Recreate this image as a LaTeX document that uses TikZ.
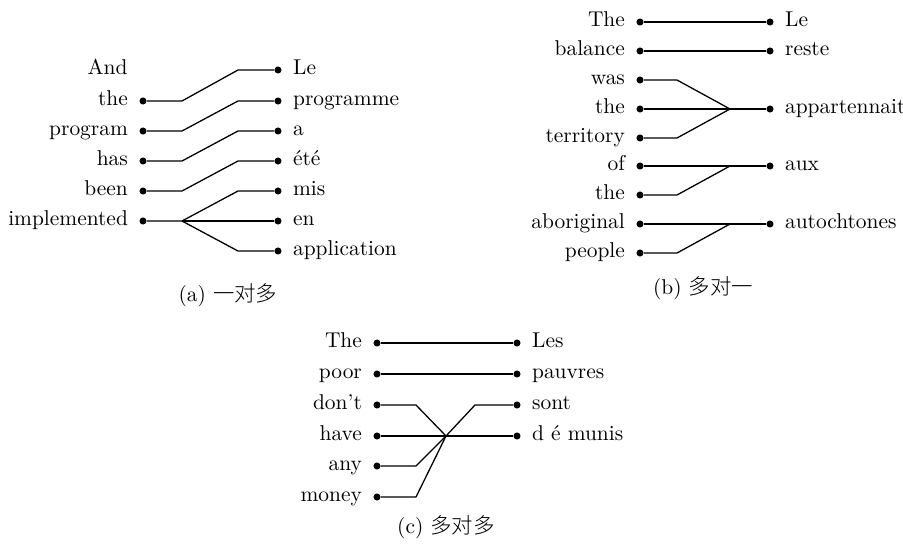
\documentclass[tikz,border=0pt]{standalone}
\usepackage{fontspec}
\newfontfamily\cjk{Noto Sans CJK SC Light}
\usepackage{tikz}
\usetikzlibrary{positioning,calc}

\begin{document}
\begin{tikzpicture}[
    x=0.01641cm, y=-0.01641cm,
    node distance=5pt,
    dot/.style={circle, fill=black, inner sep=0pt, minimum size=3.3pt},
    word/.style={inner sep=0pt, text height=6.5pt, text depth=1.9pt},
    link/.style={line width=0.6pt},
    caption/.style={inner sep=0pt}
]
\useasboundingbox (0,0) rectangle (903,546);

% (a) one to many
\coordinate (aL1) at (143,70);
\node (aL2) [dot] at (143,101) {};
\node (aL3) [dot] at (143,131) {};
\node (aL4) [dot] at (143,161) {};
\node (aL5) [dot] at (143,191) {};
\node (aL6) [dot] at (143,221) {};
\node (aW1) [word, left=7pt of aL1] {And};
\node (aW2) [word, left=of aL2] {the};
\node (aW3) [word, left=of aL3] {program};
\node (aW4) [word, left=of aL4] {has};
\node (aW5) [word, left=of aL5] {been};
\node (aW6) [word, left=of aL6] {implemented};

\node (aR1) [dot] at (278,70) {};
\node (aR2) [dot] at (278,101) {};
\node (aR3) [dot] at (278,131) {};
\node (aR4) [dot] at (278,161) {};
\node (aR5) [dot] at (278,191) {};
\node (aR6) [dot] at (278,221) {};
\node (aR7) [dot] at (278,251) {};
\node (aV1) [word, right=of aR1] {Le};
\node (aV2) [word, right=of aR2] {programme};
\node (aV3) [word, right=of aR3] {a};
\node (aV4) [word, right=of aR4] {été};
\node (aV5) [word, right=of aR5] {mis};
\node (aV6) [word, right=of aR6] {en};
\node (aV7) [word, right=of aR7] {application};

\coordinate (aJ) at (182,221);
\draw [link] (aL2) -- ++(39,0) -- ($(aR1)-(40,0)$) -- (aR1);
\draw [link] (aL3) -- ++(39,0) -- ($(aR2)-(40,0)$) -- (aR2);
\draw [link] (aL4) -- ++(39,0) -- ($(aR3)-(40,0)$) -- (aR3);
\draw [link] (aL5) -- ++(39,0) -- ($(aR4)-(40,0)$) -- (aR4);
\draw [link] (aL6) -- (aJ) -- ($(aR5)-(40,0)$) -- (aR5);
\draw [link] (aJ) -- (aR6);
\draw [link] (aJ) -- ($(aR7)-(40,0)$) -- (aR7);

\node (capA) [caption] at (228,295) {(a) {\cjk 一对多}};

% (b) many to one
\node (bL1) [dot] at (640,22) {};
\node (bL2) [dot] at (640,51) {};
\node (bL3) [dot] at (640,80) {};
\node (bL4) [dot] at (640,109) {};
\node (bL5) [dot] at (640,138) {};
\node (bL6) [dot] at (640,166) {};
\node (bL7) [dot] at (640,195) {};
\node (bL8) [dot] at (640,224) {};
\node (bL9) [dot] at (640,253) {};
\node (bW1) [word, left=of bL1] {The};
\node (bW2) [word, left=of bL2] {balance};
\node (bW3) [word, left=of bL3] {was};
\node (bW4) [word, left=of bL4] {the};
\node (bW5) [word, left=of bL5] {territory};
\node (bW6) [word, left=of bL6] {of};
\node (bW7) [word, left=of bL7] {the};
\node (bW8) [word, left=of bL8] {aboriginal};
\node (bW9) [word, left=of bL9] {people};

\node (bR1) [dot] at (770,22) {};
\node (bR2) [dot] at (770,51) {};
\node (bR3) [dot] at (770,109) {};
\node (bR4) [dot] at (770,166) {};
\node (bR5) [dot] at (770,224) {};
\node (bV1) [word, right=of bR1] {Le};
\node (bV2) [word, right=of bR2] {reste};
\node (bV3) [word, right=of bR3] {appartennait};
\node (bV4) [word, right=of bR4] {aux};
\node (bV5) [word, right=of bR5] {autochtones};

\coordinate (bJ1) at (730,109);
\coordinate (bJ2) at (730,166);
\coordinate (bJ3) at (730,224);
\draw [link] (bL1) -- (bR1);
\draw [link] (bL2) -- (bR2);
\draw [link] (bL3) -- ++(37,0) -- (bJ1);
\draw [link] (bL4) -- (bR3);
\draw [link] (bL5) -- ++(37,0) -- (bJ1);
\draw [link] (bL6) -- (bR4);
\draw [link] (bL7) -- ++(37,0) -- (bJ2);
\draw [link] (bL8) -- (bR5);
\draw [link] (bL9) -- ++(37,0) -- (bJ3);

\node (capB) [caption] at (703,288) {(b) {\cjk 多对一}};

% (c) many to many
\node (cL1) [dot] at (377,343) {};
\node (cL2) [dot] at (377,374) {};
\node (cL3) [dot] at (377,405) {};
\node (cL4) [dot] at (377,436) {};
\node (cL5) [dot] at (377,466) {};
\node (cL6) [dot] at (377,497) {};
\node (cW1) [word, left=of cL1] {The};
\node (cW2) [word, left=of cL2] {poor};
\node (cW3) [word, left=of cL3] {don’t};
\node (cW4) [word, left=of cL4] {have};
\node (cW5) [word, left=of cL5] {any};
\node (cW6) [word, left=of cL6] {money};

\node (cR1) [dot] at (517,343) {};
\node (cR2) [dot] at (517,374) {};
\node (cR3) [dot] at (517,405) {};
\node (cR4) [dot] at (517,436) {};
\node (cV1) [word, right=of cR1] {Les};
\node (cV2) [word, right=of cR2] {pauvres};
\node (cV3) [word, right=of cR3] {sont};
\node (cV4) [word, right=of cR4] {d é munis};

\coordinate (cJ) at (446,436);
\draw [link] (cL1) -- (cR1);
\draw [link] (cL2) -- (cR2);
\draw [link] (cL3) -- ++(39,0) -- (cJ);
\draw [link] (cL4) -- (cR4);
\draw [link] (cL5) -- ++(39,0) -- (cJ);
\draw [link] (cL6) -- ++(39,0) -- (cJ);
\draw [link] (cJ) -- ($(cR3)-(42,0)$) -- (cR3);

\node (capC) [caption] at (446,527) {(c) {\cjk 多对多}};

\end{tikzpicture}
\end{document}
